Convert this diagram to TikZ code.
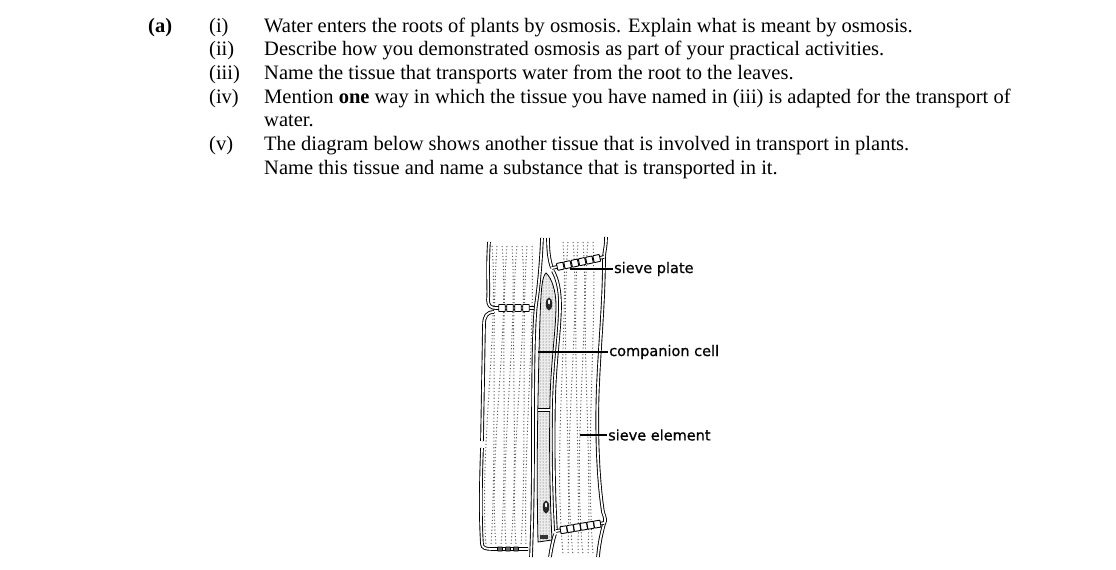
\documentclass[tikz,border=0pt]{standalone}
\usepackage{fontspec}
\setmainfont{Liberation Serif}
\newfontfamily\lblfont[FakeBold=0.8]{DejaVu Sans}
\usetikzlibrary{positioning, calc, patterns}

\tikzset{
  txt/.style={anchor=base west, inner sep=0pt, font=\fontsize{20.5}{24}\selectfont},
  lbl/.style={anchor=west, inner sep=1pt, font=\lblfont\fontsize{14.5}{16}\selectfont},
  leader/.style={draw=black, line width=1.3pt},
  wall/.style={draw=black, line width=0.9pt, double=white, double distance=1.8pt},
  stipple/.style={black!65, line width=1pt, dash pattern=on 1.1pt off 2.2pt},
  sbox/.style={draw=black, fill=white, line width=0.9pt, rounded corners=0.6pt, minimum width=6.5pt, minimum height=7pt, inner sep=0pt}
}

\begin{document}
\begin{tikzpicture}[x=1pt, y=-1pt]
  \useasboundingbox (0,0) rectangle (1116,570);

  % question text
  \node[txt] (qa) at (148,32) {\textbf{(a)}};
  \node[txt] (ni) at (209,32) {(i)};
  \node[txt] (qi) at (264,32) {Water enters the roots of plants by osmosis. Explain what is meant by osmosis.};
  \node[txt] (nii) at (209,55.7) {(ii)};
  \node[txt] (qii) at (264,55.7) {Describe how you demonstrated osmosis as part of your practical activities.};
  \node[txt] (niii) at (209,79.3) {(iii)};
  \node[txt] (qiii) at (264,79.3) {Name the tissue that transports water from the root to the leaves.};
  \node[txt] (niv) at (209,103) {(iv)};
  \node[txt] (qiv) at (264,103) {Mention \textbf{one} way in which the tissue you have named in (iii) is adapted for the transport of};
  \node[txt] (qivb) at (264,126.7) {water.};
  \node[txt] (nv) at (209,150.3) {(v)};
  \node[txt] (qv) at (264,150.3) {The diagram below shows another tissue that is involved in transport in plants.};
  \node[txt] (qvb) at (264,174) {Name this tissue and name a substance that is transported in it.};

  % stippling of the cells
  \foreach \x/\w in {490/7,495/-6,500/8,505/-7,510/6,515/-8,520/7,525/-6,530/3}
    \draw[stipple] (\x+2,246) .. controls (\x+2+\w,330) and (\x-4-\w,450) .. (\x-4,546);
  \foreach \x/\w in {563/6,568/-7,573/8,578/-6,583/7,588/-8,593/4}
    \draw[stipple] (\x,242) .. controls (\x+\w,330) and (\x-4-\w,440) .. (\x,555);

  % companion cells
  \path[draw=black, line width=0.8pt, fill=gray!15, postaction={pattern=dots, pattern color=black!70}]
    (546,273) .. controls (552,278) and (556,292) .. (556,305)
    .. controls (556,330) and (551,360) .. (550,400)
    .. controls (549,450) and (550,500) .. (552,540) -- (538,542)
    .. controls (537,500) and (537,450) .. (538,400)
    .. controls (539,350) and (540,300) .. (542,285)
    .. controls (543,278) and (544,275) .. (546,273) -- cycle;
  \draw[wall] (538,410) -- (550,410);
  \fill[black!85] (549,304) ellipse [x radius=3.2pt, y radius=6.5pt];
  \fill[white] (549,302) ellipse [x radius=1pt, y radius=2.5pt];
  \fill[black!85] (546,507) ellipse [x radius=3.2pt, y radius=6.5pt];
  \fill[white] (546,505) ellipse [x radius=1pt, y radius=2.5pt];
  \fill[black!80] (540,535) rectangle (548,539);

  % walls of the left column
  \draw[wall] (489,242) .. controls (487,270) and (489,290) .. (488,300)
    .. controls (488,306) and (491,308) .. (496,308) -- (535,308);
  \draw[wall] (494,312) .. controls (487,312) and (484,316) .. (484,325) -- (482,441);
  \draw[wall] (482,448) .. controls (480,500) and (481,530) .. (482,544)
    .. controls (482,548) and (486,549) .. (492,549) -- (528,549);
  \draw[wall] (542,238) .. controls (541,262) and (539,285) .. (536,305)
    .. controls (533,330) and (533,400) .. (533,440)
    .. controls (533,500) and (532,530) .. (531,557);

  % walls of the sieve element
  \draw[wall] (548,238) .. controls (548,250) and (549,260) .. (552,268);
  \draw[wall] (553,271) .. controls (558,280) and (560,292) .. (560,305)
    .. controls (560,330) and (555,360) .. (554,400)
    .. controls (553,450) and (554,500) .. (556,531);
  \draw[wall] (555,534) .. controls (553,540) and (551,550) .. (550,557);
  \draw[wall] (606,237) .. controls (606,248) and (604,252) .. (604,258)
    .. controls (604,300) and (600,340) .. (598,385)
    .. controls (596,430) and (598,480) .. (603,512)
    .. controls (605,518) and (606,520) .. (604,524)
    .. controls (601,535) and (599,545) .. (598,557);

  % sieve plates
  \coordinate (tpl) at (552,268);
  \coordinate (tpr) at (604,257);
  \draw[wall] (tpl) -- (tpr);
  \foreach \p [count=\k] in {0.16,0.3,0.44,0.58,0.72,0.86}
    \node[sbox, rotate=12] (tb\k) at ($(tpl)!\p!(tpr)$) {};
  \coordinate (bpl) at (556,531);
  \coordinate (bpr) at (604,523);
  \draw[wall] (bpl) -- (bpr);
  \foreach \p [count=\k] in {0.16,0.3,0.44,0.58,0.72,0.86}
    \node[sbox, rotate=9] (bb\k) at ($(bpl)!\p!(bpr)$) {};
  \foreach \x [count=\k] in {502,510,518,526}
    \node[sbox] (lb\k) at (\x,308) {};
  \foreach \x [count=\k] in {500,508,516}
    \node[sbox, minimum width=5pt, minimum height=4pt, fill=black!60] (fb\k) at (\x,549) {};

  % labels
  \coordinate (platept) at (570,269);
  \coordinate (comppt) at (538,352);
  \coordinate (elempt) at (580,435);
  \node[lbl] (plate) at (613,269) {sieve plate};
  \node[lbl] (comp) at (608,352) {companion cell};
  \node[lbl] (elem) at (607,435) {sieve element};
  \draw[leader] (platept) -- (plate.west);
  \draw[leader] (comppt) -- (comp.west);
  \draw[leader] (elempt) -- (elem.west);
\end{tikzpicture}
\end{document}
